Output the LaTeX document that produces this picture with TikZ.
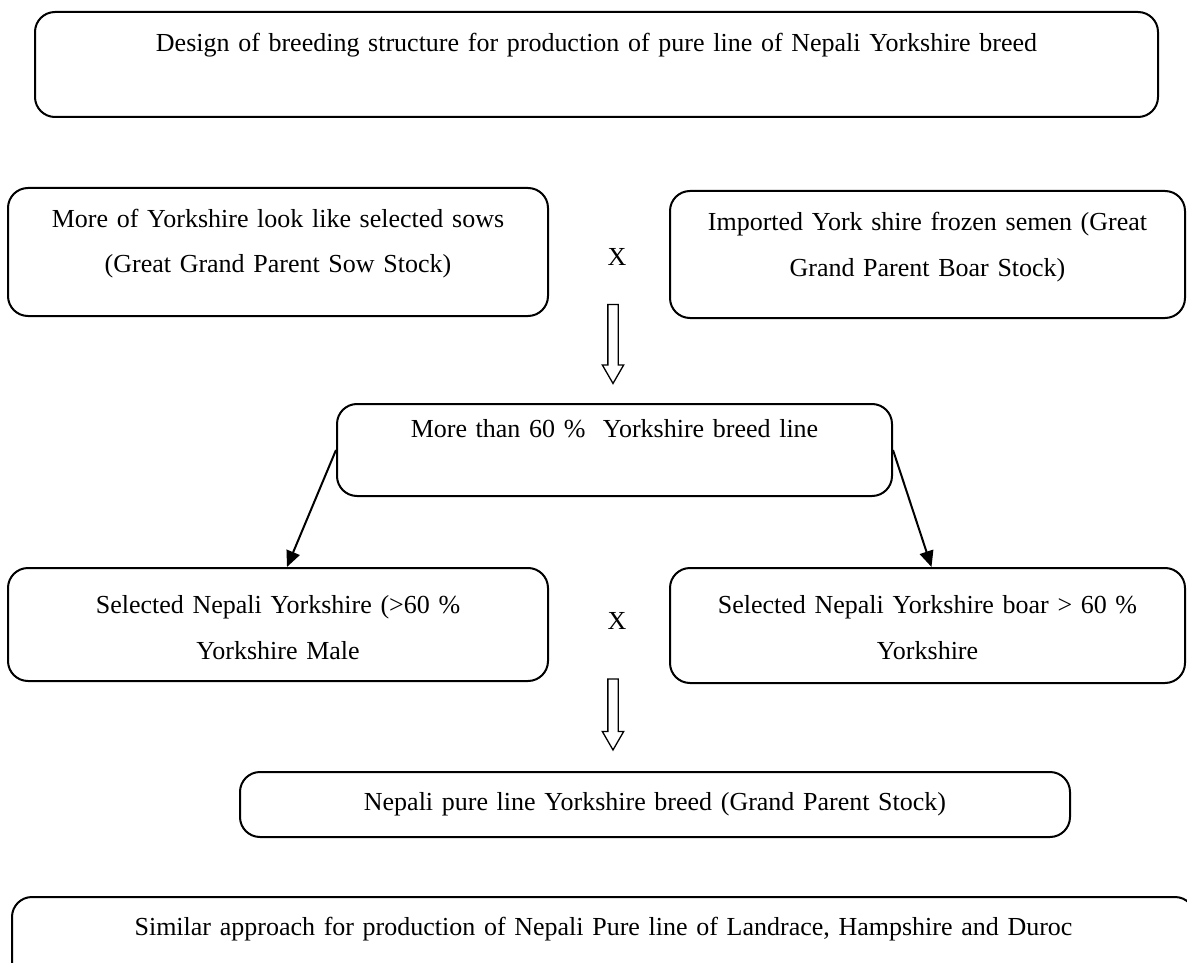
\documentclass[tikz,border=0pt]{standalone}
\usepackage{fontspec}
\setmainfont{Liberation Serif}
\usepackage{tikz}
\usetikzlibrary{arrows.meta, positioning, shapes.arrows}

\tikzset{
    stage/.style={draw, rounded corners=20pt, line width=2pt, inner sep=0pt,
        anchor=north, align=center},
    cross/.style={anchor=base, inner sep=0pt},
    fat/.style={draw, single arrow, shape border rotate=270, line width=1.3pt,
        inner sep=4.5pt, text height=0pt, text depth=0pt, text width=0pt,
        single arrow head extend=5.5pt, single arrow tip angle=60},
    thin/.style={line width=2pt, -{Triangle[length=16pt, width=14pt]}}
}

\begin{document}
\begin{tikzpicture}[x=1pt, y=-1pt, font=\fontsize{26}{46}\selectfont]
    \useasboundingbox (0,0) rectangle (1187,963);

    % title
    \node[stage, text width=1123pt, text height=40pt, text depth=65pt] (title) at (596.5,11)
        {Design of breeding structure for production of pure line of Nepali Yorkshire breed};

    % great grand parent stock
    \node[stage, text width=540pt, text height=39pt, text depth=89pt] (sow) at (278,187)
        {More of Yorkshire look like selected sows\\(Great Grand Parent Sow Stock)};
    \node[stage, text width=515pt, text height=39pt, text depth=88pt] (semen) at (927.5,190)
        {Imported York shire frozen semen (Great\\Grand Parent Boar Stock)};
    \node[cross] (x1) at (617,265) {X};

    \node[fat, minimum height=79pt] (down1) at (613,339.5) {};

    % 60 % line
    \node[stage, text width=555pt, text height=33pt, text depth=59pt] (line) at (614.5,403)
        {More than 60 \%\ \ Yorkshire breed line};

    \node[stage, text width=540pt, text height=45pt, text depth=68pt] (male) at (278,567)
        {Selected Nepali Yorkshire (>60 \%\\Yorkshire Male};
    \node[stage, text width=515pt, text height=45pt, text depth=70pt] (boar) at (927.5,567)
        {Selected Nepali Yorkshire boar > 60 \%\\Yorkshire};
    \node[cross] (x2) at (617,629) {X};

    \draw[thin] (line.west) -- ([xshift=9pt]male.north);
    \draw[thin] (line.east) -- ([xshift=4pt]boar.north);

    \node[fat, minimum height=71pt] (down2) at (613,710) {};

    % grand parent stock
    \node[stage, text width=830pt, text height=38pt, text depth=27pt] (gps) at (655,771)
        {Nepali pure line Yorkshire breed (Grand Parent Stock)};

    \node[stage, text width=1183pt, text height=38pt, text depth=100pt] (similar) at (603.5,896)
        {Similar approach for production of Nepali Pure line of Landrace, Hampshire and Duroc};
\end{tikzpicture}
\end{document}
